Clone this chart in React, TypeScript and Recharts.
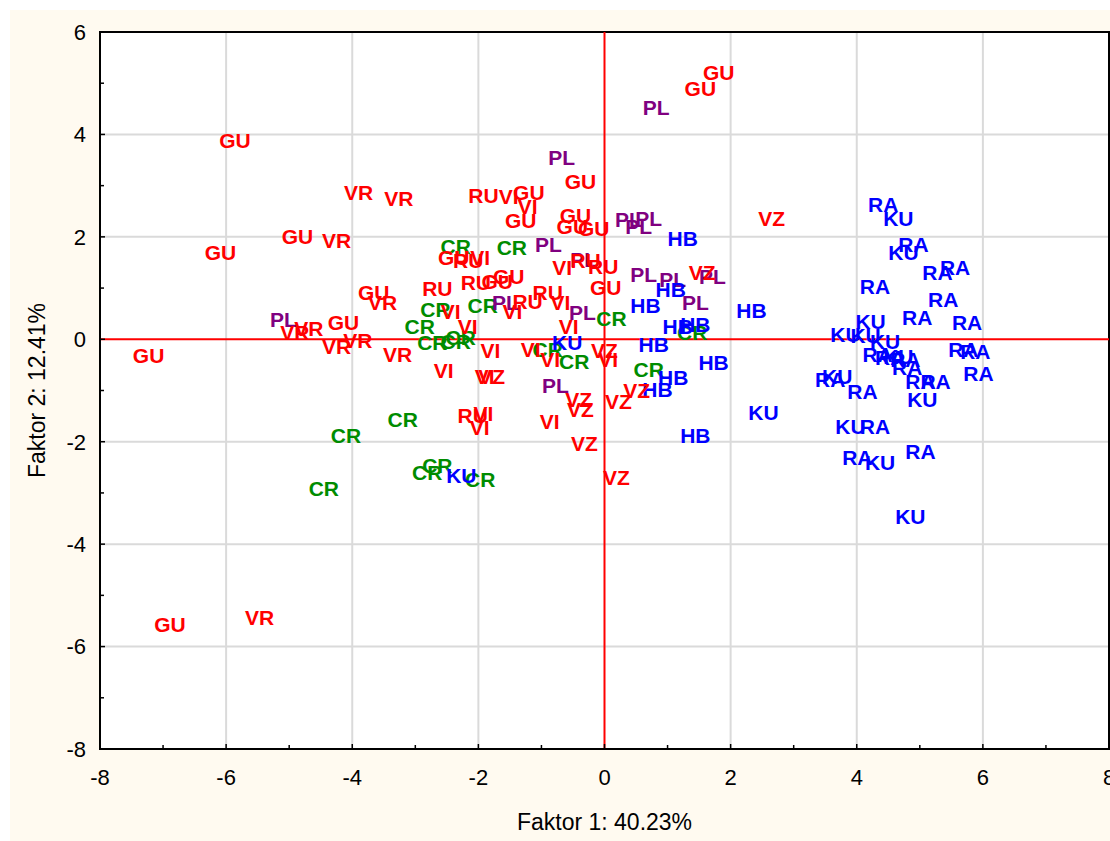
import React from "react";
import {
  ScatterChart,
  Scatter,
  XAxis,
  YAxis,
  CartesianGrid,
  ReferenceLine,
  ReferenceArea,
} from "recharts";

// factor scores, one list per group label
const GU = [
  { x: -5.86, y: 3.89 }, { x: -6.09, y: 1.7 }, { x: -7.23, y: -0.31 }, { x: -6.89, y: -5.57 },
  { x: -4.87, y: 2.01 }, { x: -3.66, y: 0.92 }, { x: -4.14, y: 0.33 }, { x: 1.81, y: 5.2 },
  { x: 1.52, y: 4.89 }, { x: -0.38, y: 3.09 }, { x: -1.2, y: 2.87 }, { x: -1.33, y: 2.31 },
  { x: -0.46, y: 2.42 }, { x: -0.51, y: 2.21 }, { x: -0.17, y: 2.17 }, { x: -2.39, y: 1.6 },
  { x: -1.7, y: 1.13 }, { x: -1.52, y: 1.23 }, { x: 0.02, y: 1.02 },
];
const VR = [
  { x: -3.9, y: 2.87 }, { x: -3.26, y: 2.74 }, { x: -4.25, y: 1.92 }, { x: -3.52, y: 0.72 },
  { x: -4.91, y: 0.14 }, { x: -4.69, y: 0.22 }, { x: -4.25, y: -0.14 }, { x: -3.91, y: -0.02 },
  { x: -3.28, y: -0.29 }, { x: -5.47, y: -5.44 },
];
const RU = [
  { x: -1.92, y: 2.8 }, { x: -2.16, y: 1.53 }, { x: -2.04, y: 1.1 }, { x: -2.65, y: 1.0 },
  { x: -0.9, y: 0.92 }, { x: -1.22, y: 0.74 }, { x: -0.02, y: 1.43 }, { x: -2.09, y: -1.49 },
  { x: -0.3, y: 1.53 },
];
const VI = [
  { x: -1.52, y: 2.78 }, { x: -1.22, y: 2.6 }, { x: -1.97, y: 1.6 }, { x: -0.67, y: 1.41 },
  { x: -2.44, y: 0.55 }, { x: -2.17, y: 0.25 }, { x: -1.46, y: 0.55 }, { x: -0.7, y: 0.72 },
  { x: -0.57, y: 0.25 }, { x: -1.81, y: -0.22 }, { x: -1.17, y: -0.2 }, { x: -0.86, y: -0.39 },
  { x: 0.06, y: -0.39 }, { x: -2.55, y: -0.61 }, { x: -1.9, y: -0.72 }, { x: -1.92, y: -1.45 },
  { x: -1.98, y: -1.72 }, { x: -0.87, y: -1.6 },
];
const VZ = [
  { x: 2.65, y: 2.35 }, { x: 1.55, y: 1.31 }, { x: -1.79, y: -0.72 }, { x: 0.0, y: -0.22 },
  { x: -0.41, y: -1.17 }, { x: -0.38, y: -1.37 }, { x: 0.22, y: -1.21 }, { x: 0.51, y: -1.0 },
  { x: -0.32, y: -2.03 }, { x: 0.19, y: -2.7 },
];
const PL = [
  { x: 0.82, y: 4.52 }, { x: -0.68, y: 3.54 }, { x: 0.38, y: 2.33 }, { x: 0.7, y: 2.35 },
  { x: 0.54, y: 2.2 }, { x: -0.89, y: 1.86 }, { x: -0.33, y: 1.56 }, { x: 0.62, y: 1.27 },
  { x: 1.08, y: 1.17 }, { x: 1.71, y: 1.23 }, { x: 1.44, y: 0.72 }, { x: -1.57, y: 0.72 },
  { x: -0.35, y: 0.53 }, { x: -0.78, y: -0.9 }, { x: -5.09, y: 0.39 },
];
const CR = [
  { x: -2.36, y: 1.82 }, { x: -1.47, y: 1.8 }, { x: -2.68, y: 0.59 }, { x: -1.93, y: 0.65 },
  { x: -2.93, y: 0.25 }, { x: -2.73, y: -0.06 }, { x: -2.36, y: -0.04 }, { x: -2.28, y: 0.04 },
  { x: 0.11, y: 0.41 }, { x: -0.48, y: -0.43 }, { x: -0.9, y: -0.2 }, { x: 0.7, y: -0.59 },
  { x: 1.39, y: 0.14 }, { x: -3.2, y: -1.56 }, { x: -4.1, y: -1.88 }, { x: -4.45, y: -2.91 },
  { x: -2.81, y: -2.6 }, { x: -2.65, y: -2.46 }, { x: -1.97, y: -2.74 },
];
const HB = [
  { x: 1.24, y: 1.96 }, { x: 1.05, y: 0.98 }, { x: 0.65, y: 0.65 }, { x: 2.33, y: 0.57 },
  { x: 1.16, y: 0.25 }, { x: 1.44, y: 0.29 }, { x: 0.78, y: -0.1 }, { x: 1.73, y: -0.45 },
  { x: 1.09, y: -0.74 }, { x: 0.84, y: -0.98 }, { x: 1.44, y: -1.88 },
];
const KU = [
  { x: -0.59, y: -0.06 }, { x: -2.27, y: -2.66 }, { x: 2.52, y: -1.43 }, { x: 4.85, y: -3.46 },
  { x: 4.66, y: 2.35 }, { x: 4.74, y: 1.7 }, { x: 4.22, y: 0.35 }, { x: 3.82, y: 0.1 },
  { x: 4.14, y: 0.08 }, { x: 4.45, y: -0.04 }, { x: 4.66, y: -0.33 }, { x: 3.69, y: -0.72 },
  { x: 3.9, y: -1.7 }, { x: 4.37, y: -2.41 }, { x: 5.04, y: -1.17 },
];
const RA = [
  { x: 4.42, y: 2.64 }, { x: 4.9, y: 1.86 }, { x: 5.28, y: 1.31 }, { x: 5.56, y: 1.41 },
  { x: 4.29, y: 1.04 }, { x: 5.37, y: 0.78 }, { x: 4.96, y: 0.43 }, { x: 5.75, y: 0.33 },
  { x: 4.33, y: -0.29 }, { x: 4.53, y: -0.35 }, { x: 4.77, y: -0.39 }, { x: 5.69, y: -0.2 },
  { x: 5.88, y: -0.23 }, { x: 4.8, y: -0.55 }, { x: 5.93, y: -0.66 }, { x: 3.58, y: -0.78 },
  { x: 4.09, y: -1.02 }, { x: 5.01, y: -0.82 }, { x: 5.25, y: -0.82 }, { x: 4.29, y: -1.7 },
  { x: 5.01, y: -2.19 }, { x: 4.01, y: -2.31 },
];

const xTicks = [-8, -7, -6, -5, -4, -3, -2, -1, 0, 1, 2, 3, 4, 5, 6, 7, 8];
const yTicks = [-8, -7, -6, -5, -4, -3, -2, -1, 0, 1, 2, 3, 4, 5, 6];
const xGrid = [-6, -4, -2, 2, 4, 6];
const yGrid = [-6, -4, -2, 2, 4];

const RED = "#ff0000";
const GREEN = "#008c00";
const BLUE = "#0000ff";
const PURPLE = "#800080";

const groups = [
  { name: "CR", data: CR, color: GREEN },
  { name: "PL", data: PL, color: PURPLE },
  { name: "HB", data: HB, color: BLUE },
  { name: "KU", data: KU, color: BLUE },
  { name: "RA", data: RA, color: BLUE },
  { name: "GU", data: GU, color: RED },
  { name: "VR", data: VR, color: RED },
  { name: "RU", data: RU, color: RED },
  { name: "VI", data: VI, color: RED },
  { name: "VZ", data: VZ, color: RED },
];

const FONT = '"Liberation Sans", Arial, sans-serif';
const X_GAP = 20; // axis line -> top of x tick text
const Y_GAP = 14; // axis line -> right edge of y tick text

const makeLabel = (text: string, color: string) => (props: any) => {
  const { cx, cy } = props;
  return (
    <text
      x={cx}
      y={cy}
      dy={7.5}
      textAnchor="middle"
      fill={color}
      fontFamily={FONT}
      fontWeight="bold"
      fontSize={21}
    >
      {text}
    </text>
  );
};

// ticks point into the plot, labels only on even values
const XTick = (props: any) => {
  const { x, y, payload } = props;
  const major = payload.value % 2 === 0;
  const axisY = y - X_GAP;
  return (
    <g>
      <line x1={x} x2={x} y1={axisY} y2={axisY - (major ? 5 : 4)} stroke="#000" strokeWidth={1.5} />
      {major && (
        <text x={x} y={y} dy="0.71em" textAnchor="middle" fill="#000" fontFamily={FONT} fontSize={22}>
          {payload.value}
        </text>
      )}
    </g>
  );
};

const YTick = (props: any) => {
  const { x, y, payload } = props;
  const major = payload.value % 2 === 0;
  const axisX = x + Y_GAP;
  return (
    <g>
      <line x1={axisX} x2={axisX + (major ? 5 : 4)} y1={y} y2={y} stroke="#000" strokeWidth={1.5} />
      {major && (
        <text x={x} y={y} dy="0.355em" textAnchor="end" fill="#000" fontFamily={FONT} fontSize={22}>
          {payload.value}
        </text>
      )}
    </g>
  );
};

const App = () => {
  return (
    <div style={{ position: "fixed", left: 10, top: 10, width: 1100, height: 831, background: "#fffaf0" }}>
      <ScatterChart width={1100} height={831} margin={{ top: 22, right: 1, bottom: 0, left: 0 }}>
        <CartesianGrid
          fill="#fff"
          stroke="#dadada"
          strokeWidth={2}
          verticalValues={xGrid}
          horizontalValues={yGrid}
        />
        <XAxis
          type="number"
          dataKey="x"
          domain={[-8, 8]}
          ticks={xTicks}
          interval={0}
          height={92}
          tickSize={0}
          tickMargin={X_GAP}
          tick={<XTick />}
          tickLine={false}
          axisLine={{ stroke: "#000", strokeWidth: 2 }}
          allowDataOverflow
          label={{
            value: "Faktor 1: 40.23%",
            position: "insideBottom",
            offset: 11,
            fill: "#000",
            fontSize: 23,
            fontFamily: FONT,
          }}
        />
        <YAxis
          type="number"
          dataKey="y"
          domain={[-8, 6]}
          ticks={yTicks}
          interval={0}
          width={90}
          tickSize={0}
          tickMargin={Y_GAP}
          tick={<YTick />}
          tickLine={false}
          axisLine={{ stroke: "#000", strokeWidth: 2 }}
          allowDataOverflow
          label={{
            value: "Faktor 2: 12.41%",
            angle: -90,
            position: "insideLeft",
            offset: 27,
            fill: "#000",
            fontSize: 23,
            fontFamily: FONT,
            style: { textAnchor: "middle" },
          }}
        />
        <ReferenceLine x={0} stroke={RED} strokeWidth={2} />
        <ReferenceLine y={0} stroke={RED} strokeWidth={2} />
        {groups.map((g) => (
          <Scatter
            key={g.name}
            name={g.name}
            data={g.data}
            shape={makeLabel(g.name, g.color)}
            isAnimationActive={false}
          />
        ))}
        <ReferenceArea x1={-8} x2={8} y1={-8} y2={6} fill="none" stroke="#000" strokeWidth={2} />
      </ScatterChart>
    </div>
  );
};

export default App;
